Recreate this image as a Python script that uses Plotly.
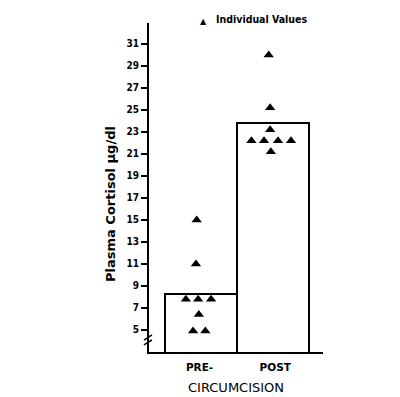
import plotly.graph_objects as go

categories = ["PRE-", "POST"]
group_pos = [0, 1]
bar_means = [8.3, 23.85]

pre_values = [15.0, 11.0, 7.8, 7.8, 7.8, 6.4, 4.9, 4.9]
pre_offsets = [-0.06, -0.07, -0.21, -0.04, 0.14, -0.03, -0.11, 0.06]
post_values = [30.0, 25.2, 23.2, 22.2, 22.2, 22.2, 22.2, 21.2]
post_offsets = [-0.06, -0.04, -0.04, -0.30, -0.125, 0.07, 0.25, -0.03]

ytick_vals = list(range(5, 32, 2))
label_pos = [-0.02, 1.03]

FONT_N = "Liberation Sans Narrow, Arial Narrow, DejaVu Sans Condensed, sans-serif"
FONT_W = "DejaVu Sans, Verdana, sans-serif"

# page body has an 8px default margin, so the figure is offset by 8px
OFF = 8
L, T, PW, PH = 149 - OFF, 23 - OFF, 174, 329
W, H = 400 - OFF, 397 - OFF

fig = go.Figure()
fig.add_trace(go.Bar(
    x=group_pos, y=bar_means, width=1.0,
    marker=dict(color="white", line=dict(color="black", width=2)),
    showlegend=False, hoverinfo="skip",
))

px = [group_pos[0] + o for o in pre_offsets] + [group_pos[1] + o for o in post_offsets]
py = pre_values + post_values
fig.add_trace(go.Scatter(
    x=px, y=py, mode="markers", name="Individual Values",
    marker=dict(symbol="triangle-up", size=9, color="black"),
    showlegend=False,
))

fig.update_layout(
    width=W, height=H,
    margin=dict(l=L, r=W - L - PW, t=T, b=H - T - PH, autoexpand=False),
    paper_bgcolor="white", plot_bgcolor="white",
    bargap=0,
    showlegend=False,
    xaxis=dict(range=[-0.722, 1.694], showline=True, linecolor="black", linewidth=2,
               tickvals=label_pos, ticktext=["<b>%s</b>" % c for c in categories],
               ticks="", showgrid=False, zeroline=False, automargin=False,
               ticklabelstandoff=4,
               tickfont=dict(family=FONT_W, size=10.5, color="black")),
    yaxis=dict(range=[3, 32.9], showline=True, linecolor="black", linewidth=2,
               tickvals=ytick_vals, ticktext=["<b>%d</b>" % v for v in ytick_vals],
               ticks="outside", ticklen=6, tickwidth=1.5, tickcolor="black",
               showgrid=False, zeroline=False, automargin=False,
               tickfont=dict(family=FONT_N, size=10, color="black")),
)

# legend key (symbol + label)
fig.add_annotation(text="\u25b2", xref="paper", yref="paper",
                   x=(203 - 149) / PW, y=(352 - 21.5) / PH, xanchor="center", yanchor="middle",
                   showarrow=False, font=dict(family="DejaVu Sans", size=8, color="black"))
fig.add_annotation(text="<b>Individual Values</b>", xref="paper", yref="paper",
                   x=(214 - 149) / PW, y=(352 - 19.5) / PH, xanchor="left", yanchor="middle",
                   showarrow=False, font=dict(family=FONT_N, size=10.5, color="black"))

fig.add_annotation(text="CIRCUMCISION", xref="paper", yref="paper",
                   x=(236 - 149) / PW, y=(352 - 387) / PH, xanchor="center", yanchor="middle",
                   showarrow=False, font=dict(family=FONT_W, size=13, color="black"))
fig.add_annotation(text="<b>Plasma Cortisol \u03bcg/dl</b>", xref="paper", yref="paper",
                   x=(110 - 149) / PW, y=(352 - 204) / PH, xanchor="center", yanchor="middle",
                   textangle=-90,
                   showarrow=False, font=dict(family=FONT_W, size=13, color="black"))

# axis break mark
for y0, y1 in [(4.09, 4.55), (3.64, 4.09)]:
    fig.add_shape(type="line", xref="x domain", yref="y", x0=-0.029, x1=0.017,
                  y0=y0, y1=y1, line=dict(color="black", width=1.5))

fig.write_html("out.html")
